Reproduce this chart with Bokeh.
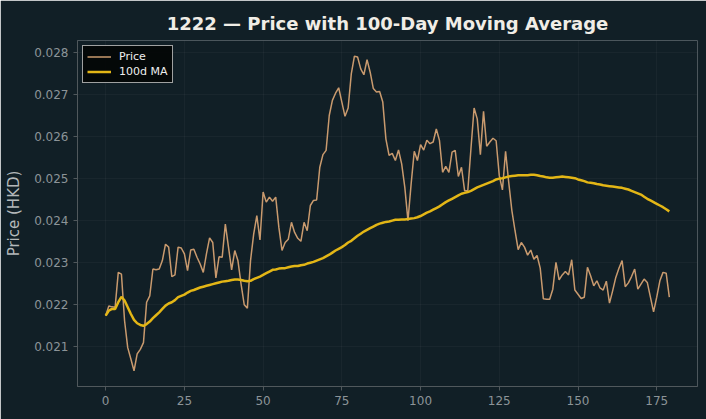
from bokeh.plotting import figure
from bokeh.models import Range1d, FixedTicker, PrintfTickFormatter, Legend, LegendItem
from bokeh.embed import file_html
from bokeh.resources import INLINE

title_text = "1222 — Price with 100-Day Moving Average"
y_label = "Price (HKD)"
series_names = ["Price", "100d MA"]
x_ticks = [0, 25, 50, 75, 100, 125, 150, 175]
y_ticks = [0.021, 0.022, 0.023, 0.024, 0.025, 0.026, 0.027, 0.028]

price = [
    0.02174, 0.02197, 0.02195, 0.02194, 0.02277, 0.02273, 0.02162, 0.02098, 0.02071, 0.02043,
    0.02083, 0.02094, 0.02110, 0.02206, 0.02221, 0.02285, 0.02283, 0.02285, 0.02305, 0.02344,
    0.02337, 0.02267, 0.02271, 0.02337, 0.02335, 0.02321, 0.02281, 0.02330, 0.02332, 0.02313,
    0.02297, 0.02277, 0.02321, 0.02359, 0.02348, 0.02264, 0.02314, 0.02313, 0.02392, 0.02337,
    0.02283, 0.02329, 0.02305, 0.02249, 0.02200, 0.02192, 0.02305, 0.02368, 0.02412, 0.02354,
    0.02468, 0.02444, 0.02456, 0.02446, 0.02456, 0.02384, 0.02329, 0.02348, 0.02356, 0.02396,
    0.02372, 0.02358, 0.02351, 0.02396, 0.02376, 0.02436, 0.02448, 0.02449, 0.02527, 0.02557,
    0.02567, 0.02650, 0.02686, 0.02703, 0.02716, 0.02682, 0.02648, 0.02668, 0.02749, 0.02791,
    0.02789, 0.02761, 0.02747, 0.02783, 0.02753, 0.02714, 0.02706, 0.02707, 0.02682, 0.02594,
    0.02555, 0.02560, 0.02543, 0.02568, 0.02535, 0.02479, 0.02400, 0.02487, 0.02565, 0.02543,
    0.02581, 0.02568, 0.02591, 0.02583, 0.02587, 0.02618, 0.02591, 0.02515, 0.02529, 0.02515,
    0.02563, 0.02567, 0.02505, 0.02527, 0.02471, 0.02471, 0.02571, 0.02668, 0.02642, 0.02557,
    0.02660, 0.02577, 0.02587, 0.02596, 0.02590, 0.02507, 0.02473, 0.02565, 0.02491, 0.02424,
    0.02376, 0.02331, 0.02348, 0.02337, 0.02318, 0.02330, 0.02308, 0.02317, 0.02287, 0.02214,
    0.02213, 0.02213, 0.02237, 0.02301, 0.02259, 0.02271, 0.02279, 0.02271, 0.02307, 0.02235,
    0.02225, 0.02215, 0.02218, 0.02289, 0.02269, 0.02245, 0.02257, 0.02240, 0.02235, 0.02256,
    0.02204, 0.02233, 0.02265, 0.02287, 0.02305, 0.02243, 0.02252, 0.02267, 0.02285, 0.02237,
    0.02249, 0.02261, 0.02253, 0.02218, 0.02183, 0.02218, 0.02257, 0.02277, 0.02275, 0.02218,
]

ma100 = [
    0.02174, 0.02186, 0.02190, 0.02190, 0.02206, 0.02219, 0.02210, 0.02194, 0.02178, 0.02164,
    0.02156, 0.02152, 0.02150, 0.02154, 0.02160, 0.02168, 0.02175, 0.02182, 0.02190, 0.02198,
    0.02203, 0.02206, 0.02211, 0.02218, 0.02221, 0.02224, 0.02229, 0.02233, 0.02235, 0.02238,
    0.02241, 0.02243, 0.02245, 0.02247, 0.02249, 0.02251, 0.02253, 0.02255, 0.02256, 0.02257,
    0.02259, 0.02260, 0.02260, 0.02259, 0.02257, 0.02256, 0.02257, 0.02261, 0.02264, 0.02267,
    0.02271, 0.02275, 0.02279, 0.02283, 0.02284, 0.02286, 0.02287, 0.02287, 0.02289, 0.02291,
    0.02292, 0.02292, 0.02294, 0.02295, 0.02298, 0.02300, 0.02302, 0.02305, 0.02308, 0.02311,
    0.02315, 0.02319, 0.02324, 0.02329, 0.02333, 0.02337, 0.02342, 0.02348, 0.02352, 0.02358,
    0.02364, 0.02369, 0.02374, 0.02378, 0.02382, 0.02386, 0.02390, 0.02393, 0.02395, 0.02397,
    0.02398, 0.02400, 0.02402, 0.02402, 0.02403, 0.02403, 0.02404, 0.02405, 0.02406, 0.02408,
    0.02411, 0.02415, 0.02419, 0.02422, 0.02426, 0.02430, 0.02434, 0.02439, 0.02444, 0.02448,
    0.02452, 0.02456, 0.02460, 0.02464, 0.02466, 0.02468, 0.02471, 0.02475, 0.02479, 0.02482,
    0.02485, 0.02488, 0.02491, 0.02494, 0.02498, 0.02500, 0.02501, 0.02503, 0.02505, 0.02506,
    0.02507, 0.02508, 0.02508, 0.02508, 0.02508, 0.02509, 0.02509, 0.02508, 0.02506, 0.02505,
    0.02503, 0.02502, 0.02502, 0.02503, 0.02504, 0.02505, 0.02504, 0.02503, 0.02502, 0.02501,
    0.02498, 0.02496, 0.02494, 0.02491, 0.02490, 0.02489, 0.02487, 0.02486, 0.02484, 0.02483,
    0.02482, 0.02481, 0.02480, 0.02479, 0.02478, 0.02476, 0.02474, 0.02471, 0.02468, 0.02465,
    0.02462, 0.02457, 0.02452, 0.02448, 0.02444, 0.02440, 0.02436, 0.02432, 0.02427, 0.02422,
]

days = list(range(len(price)))

BG = "#111f26"
FONT = "DejaVu Sans"

xlo, xhi = min(days), max(days)
xpad = 0.05 * (xhi - xlo)
lo = min(price + ma100)
hi = max(price + ma100)
ypad = 0.05 * (hi - lo)

p = figure(width=706, height=419, output_backend="svg", toolbar_location=None,
           x_range=Range1d(xlo - xpad, xhi + xpad),
           y_range=Range1d(lo - ypad, hi + ypad),
           background_fill_color=BG, border_fill_color=BG,
           min_border_left=77, min_border_right=9, min_border_top=40, min_border_bottom=33)
p.outline_line_color = None

p.title.text = title_text
p.title.align = "center"
p.title.text_font = FONT
p.title.text_font_size = "18px"
p.title.text_font_style = "bold"
p.title.text_color = "#f0ede6"
p.title.standoff = 14

r_price = p.line(days, price, line_color="#c99a6e", line_width=1.5)
r_ma = p.line(days, ma100, line_color="#e3b616", line_width=2.5)

for ax in (p.xaxis[0], p.yaxis[0]):
    ax.axis_line_color = "#50585c"
    ax.major_tick_line_color = "#50585c"
    ax.major_tick_out = 4
    ax.major_tick_in = 0
    ax.minor_tick_line_color = None
    ax.major_label_text_font = FONT
    ax.major_label_text_font_size = "12px"
    ax.major_label_text_color = "#8c9498"
    ax.major_label_standoff = 5

p.xaxis.ticker = FixedTicker(ticks=x_ticks)
p.yaxis.ticker = FixedTicker(ticks=y_ticks)
p.yaxis.formatter = PrintfTickFormatter(format="%.3f")
p.yaxis.axis_label = y_label
p.yaxis.axis_label_text_font = FONT
p.yaxis.axis_label_text_font_size = "15px"
p.yaxis.axis_label_text_font_style = "normal"
p.yaxis.axis_label_text_color = "#b4b8ba"
p.yaxis.axis_label_standoff = 8

p.xgrid.grid_line_color = "#ffffff"
p.xgrid.grid_line_alpha = 0.035
p.ygrid.grid_line_color = "#ffffff"
p.ygrid.grid_line_alpha = 0.035

legend = Legend(items=[LegendItem(label=series_names[0], renderers=[r_price]),
                       LegendItem(label=series_names[1], renderers=[r_ma])],
                location="top_left")
legend.margin = 5
legend.padding = 4
legend.spacing = 2
legend.glyph_width = 24
legend.glyph_height = 13
legend.label_height = 13
legend.label_standoff = 8
legend.label_text_font = FONT
legend.label_text_font_size = "11px"
legend.label_text_color = "#eeeeee"
legend.background_fill_color = "#030506"
legend.background_fill_alpha = 0.9
legend.border_line_color = "#c8c8c8"
legend.border_line_alpha = 0.8
legend.border_line_width = 1
p.add_layout(legend)

open("out.html", "w").write(file_html(p, INLINE))
